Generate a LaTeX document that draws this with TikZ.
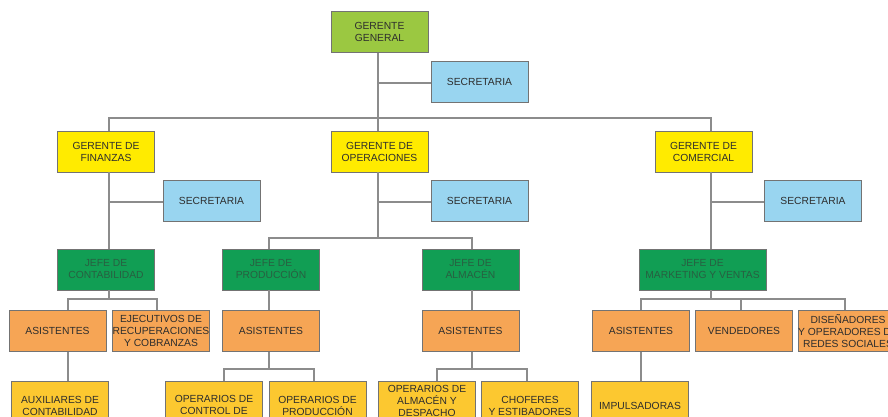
\documentclass[tikz,border=0pt]{standalone}
\usepackage{fontspec}
\setmainfont{Liberation Sans}
\definecolor{cgg}{RGB}{155,200,65}
\definecolor{csec}{RGB}{153,213,240}
\definecolor{cger}{RGB}{255,235,0}
\definecolor{cjefe}{RGB}{17,158,84}
\definecolor{cori}{RGB}{246,165,85}
\definecolor{cbot}{RGB}{252,200,48}
\definecolor{cbord}{RGB}{115,115,115}
\definecolor{cline}{RGB}{140,140,140}
\definecolor{ctext}{RGB}{45,45,45}
\definecolor{cjtext}{RGB}{40,95,65}
\tikzset{
  box/.style={draw=cbord, line width=0.9pt, minimum width=97pt, minimum height=41pt, inner sep=0pt,
    align=center, text=ctext, font=\fontsize{10.3}{12}\selectfont},
  ggbox/.style={box, fill=cgg},
  secbox/.style={box, fill=csec},
  gerbox/.style={box, fill=cger},
  jefebox/.style={box, fill=cjefe, text=cjtext},
  orbox/.style={box, fill=cori},
  botbox/.style={box, fill=cbot, minimum height=50pt},
  conn/.style={draw=cline, line width=1.1pt},
}
\begin{document}
\begin{tikzpicture}[x=1pt,y=-1pt]
\useasboundingbox (0,0) rectangle (888,417);
\clip (0,0) rectangle (888,417);
\fill[white] (0,0) rectangle (888,417);
% level 0
\node[ggbox] (gg) at (379.5,32) {GERENTE\\GENERAL};
\node[secbox] (sec0) at (479.5,82) {SECRETARIA};
% level 1
\node[gerbox] (gf) at (106,151.5) {GERENTE DE\\FINANZAS};
\node[gerbox] (go) at (379.5,151.5) {GERENTE DE\\OPERACIONES};
\node[gerbox] (gc) at (703.5,151.5) {GERENTE DE\\COMERCIAL};
\node[secbox] (sf) at (211.5,200.5) {SECRETARIA};
\node[secbox] (so) at (479.5,200.5) {SECRETARIA};
\node[secbox] (sc) at (813,200.5) {SECRETARIA};
% jefes
\node[jefebox] (jc) at (106,269.5) {JEFE DE\\CONTABILIDAD};
\node[jefebox] (jp) at (271,269.5) {JEFE DE\\PRODUCCIÓN};
\node[jefebox] (ja) at (470.5,269.5) {JEFE DE\\ALMACÉN};
\node[jefebox, minimum width=127pt] (jm) at (702.5,269.5) {JEFE DE\\MARKETING Y VENTAS};
% asistentes level
\node[orbox] (ac) at (57.5,331) {ASISTENTES};
\node[orbox] (ej) at (161,331) {EJECUTIVOS DE\\RECUPERACIONES\\Y COBRANZAS};
\node[orbox] (ap) at (271,331) {ASISTENTES};
\node[orbox] (aa) at (470.5,331) {ASISTENTES};
\node[orbox] (am) at (641,331) {ASISTENTES};
\node[orbox] (ve) at (744,331) {VENDEDORES};
\node[orbox] (di) at (848,331) {DISEÑADORES\\Y OPERADORES DE\\REDES SOCIALES};
% bottom level
\node[botbox] (ax) at (60,406) {AUXILIARES DE\\CONTABILIDAD};
\node[botbox, minimum height=60pt] (oc) at (214,411) {OPERARIOS DE\\CONTROL DE\\CALIDAD};
\node[botbox] (op) at (317.5,406) {OPERARIOS DE\\PRODUCCIÓN};
\node[botbox, minimum height=40pt] (oa) at (427,401) {OPERARIOS DE\\ALMACÉN Y\\DESPACHO};
\node[botbox] (ch) at (530,406) {CHOFERES\\Y ESTIBADORES};
\node[botbox] (im) at (640,406) {IMPULSADORAS};
% connectors
\draw[conn] (378,0 |- gg.south) -- (378,0 |- go.north);
\draw[conn] (378,83) -- (sec0.west |- 0,83);
\draw[conn] (109,0 |- gf.north) -- (109,118) -- (711,118) -- (711,0 |- gc.north);
% finanzas
\draw[conn] (109,0 |- gf.south) -- (109,0 |- jc.north);
\draw[conn] (109,202) -- (sf.west |- 0,202);
% operaciones
\draw[conn] (378,0 |- go.south) -- (378,238);
\draw[conn] (378,202) -- (so.west |- 0,202);
\draw[conn] (269,0 |- jp.north) -- (269,238) -- (472,238) -- (472,0 |- ja.north);
% comercial
\draw[conn] (711,0 |- gc.south) -- (711,0 |- jm.north);
\draw[conn] (711,202) -- (sc.west |- 0,202);
% contabilidad
\draw[conn] (109,0 |- jc.south) -- (109,299);
\draw[conn] (68,0 |- ac.north) -- (68,299) -- (157,299) -- (157,0 |- ej.north);
% produccion, almacen
\draw[conn] (269,0 |- jp.south) -- (269,0 |- ap.north);
\draw[conn] (472,0 |- ja.south) -- (472,0 |- aa.north);
% marketing
\draw[conn] (711,0 |- jm.south) -- (711,299);
\draw[conn] (641,0 |- am.north) -- (641,299) -- (845,299) -- (845,0 |- di.north);
\draw[conn] (741,299) -- (741,0 |- ve.north);
% bottom
\draw[conn] (68,0 |- ac.south) -- (68,0 |- ax.north);
\draw[conn] (269,0 |- ap.south) -- (269,369);
\draw[conn] (224,0 |- oc.north) -- (224,369) -- (314,369) -- (314,0 |- op.north);
\draw[conn] (472,0 |- aa.south) -- (472,369);
\draw[conn] (437,0 |- oa.north) -- (437,369) -- (527,369) -- (527,0 |- ch.north);
\draw[conn] (641,0 |- am.south) -- (641,0 |- im.north);
\end{tikzpicture}
\end{document}
